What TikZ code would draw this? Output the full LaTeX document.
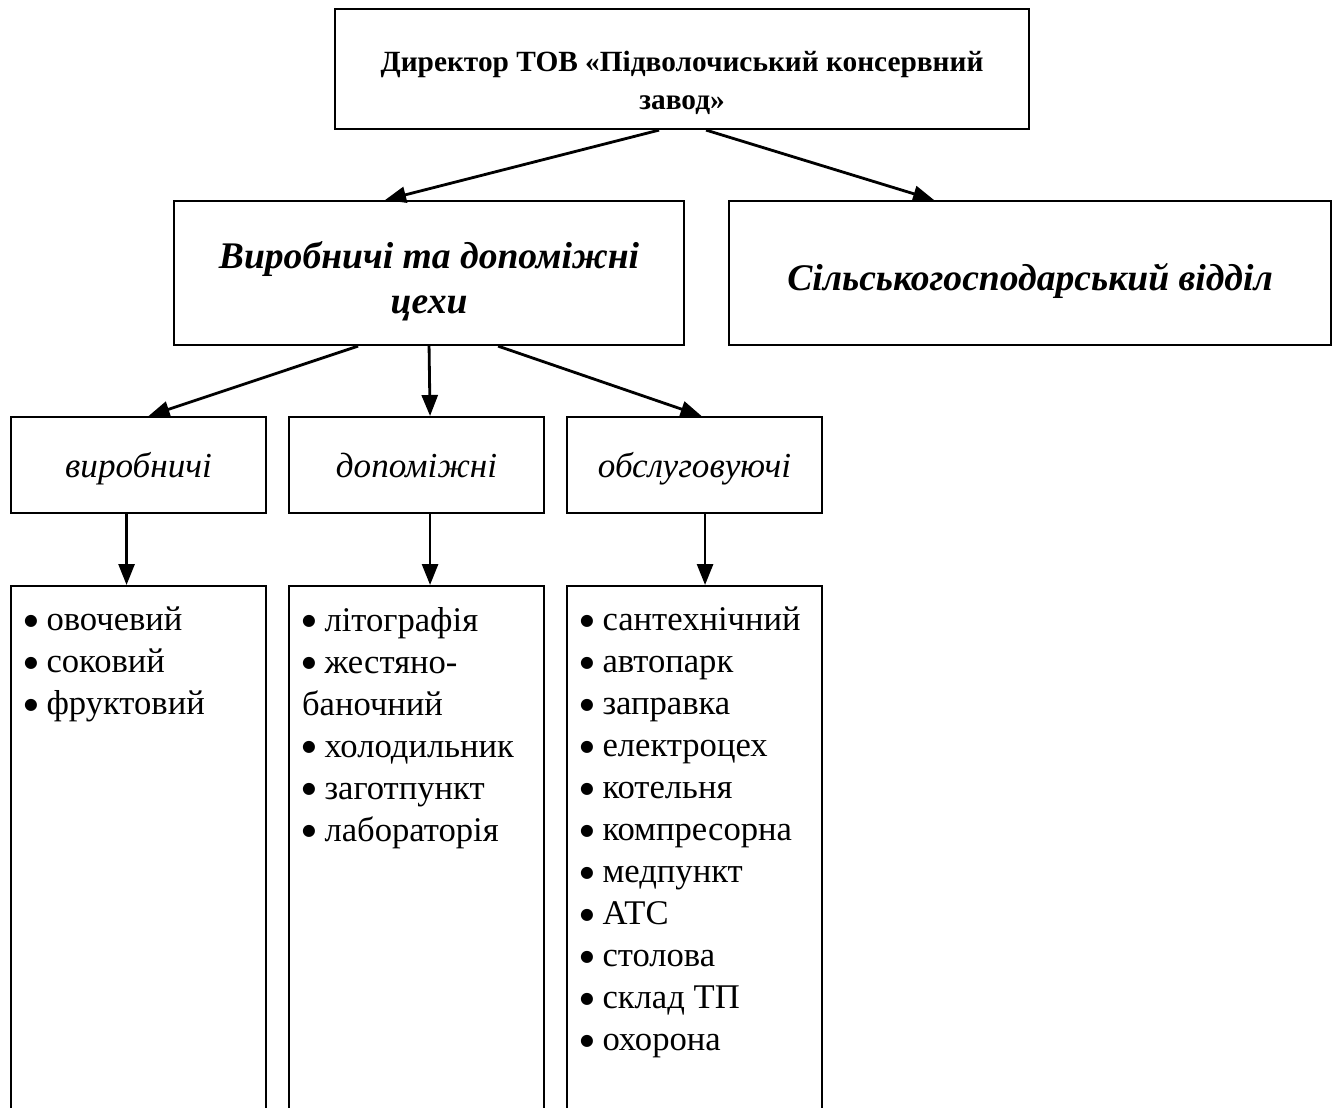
\documentclass[tikz,border=0pt]{standalone}
\usepackage{fontspec}
\setmainfont{Liberation Serif}
\newfontfamily\dejavu{DejaVu Sans}
\usetikzlibrary{arrows.meta}
\newcommand\bul{\raisebox{2.9pt}{\dejavu\fontsize{9}{9}\selectfont ●}}

\begin{document}
\begin{tikzpicture}[x=0.02cm,y=-0.02cm,line width=1.2pt]

\def\px{0.02cm}
\tikzset{
box/.style={draw,anchor=north west,inner sep=0pt,align=center},
unit/.style={box,minimum width=255*\px,minimum height=96*\px,text height=18.6pt,text depth=4pt,font=\itshape\fontsize{20}{24}\selectfont},
listbox/.style={box,minimum width=255*\px,minimum height=600*\px},
listtext/.style={anchor=north west,inner sep=0pt,align=left,font=\fontsize{19.7}{23.9}\selectfont},
arr/.style={-{Triangle[length=0.42cm,width=0.32cm]},line width=1.6pt}
}

\clip (0,0) rectangle (1332,1108);

% top
\node[box,minimum width=694*\px,minimum height=120*\px,text height=48.6pt,font=\bfseries\fontsize{16.7}{21.6}\selectfont] (dir) at (334,8) {Директор ТОВ «Підволочиський консервний\\завод»};

\node[box,minimum width=510*\px,minimum height=144*\px,text height=50pt,font=\bfseries\itshape\fontsize{21.4}{25.6}\selectfont] (cekh) at (173,200) {Виробничі та допоміжні\\цехи};
\node[box,minimum width=602*\px,minimum height=144*\px,text height=24pt,font=\bfseries\itshape\fontsize{21.4}{25.6}\selectfont] (silg) at (728,200) {Сільськогосподарський відділ};

% units
\node[unit] (vyr)  at (10,416)  {виробничі};
\node[unit] (dop)  at (288,416) {допоміжні};
\node[unit] (obsl) at (566,416) {обслуговуючі};

\node[listbox] (vyr_l)  at (10,585)  {};
\node[listbox] (dop_l)  at (288,585) {};
\node[listbox] (obsl_l) at (566,585) {};

\node[listtext] (vyr_t) at ([xshift=13*\px,yshift=-21*\px]vyr_l.north west)
 {\bul{} овочевий\\\bul{} соковий\\\bul{} фруктовий};
\node[listtext] (dop_t) at ([xshift=13*\px,yshift=-21*\px]dop_l.north west)
 {\bul{} літографія\\\bul{} жестяно-\\баночний\\\bul{} холодильник\\\bul{} заготпункт\\\bul{} лабораторія};
\node[listtext] (obsl_t) at ([xshift=13*\px,yshift=-21*\px]obsl_l.north west)
 {\bul{} сантехнічний\\\bul{} автопарк\\\bul{} заправка\\\bul{} електроцех\\\bul{} котельня\\\bul{} компресорна\\\bul{} медпункт\\\bul{} АТС\\\bul{} столова\\\bul{} склад ТП\\\bul{} охорона};

\draw[arr] ([xshift=-23*\px]dir.south) -- ([xshift=-44*\px]cekh.north);
\draw[arr] ([xshift=24*\px]dir.south) -- ([xshift=-96*\px]silg.north);

\draw[arr] ([xshift=-71*\px]cekh.south) -- ([xshift=10*\px]vyr.north);
\draw[arr] (cekh.south) -- ([xshift=13.5*\px]dop.north);
\draw[arr] ([xshift=69*\px]cekh.south) -- ([xshift=7*\px]obsl.north);

\draw[arr] ([xshift=-12*\px]vyr.south) -- ([xshift=-12*\px]vyr_l.north);
\draw[arr] ([xshift=13.5*\px]dop.south) -- ([xshift=13.5*\px]dop_l.north);
\draw[arr] ([xshift=10.5*\px]obsl.south) -- ([xshift=10.5*\px]obsl_l.north);

\end{tikzpicture}
\end{document}
